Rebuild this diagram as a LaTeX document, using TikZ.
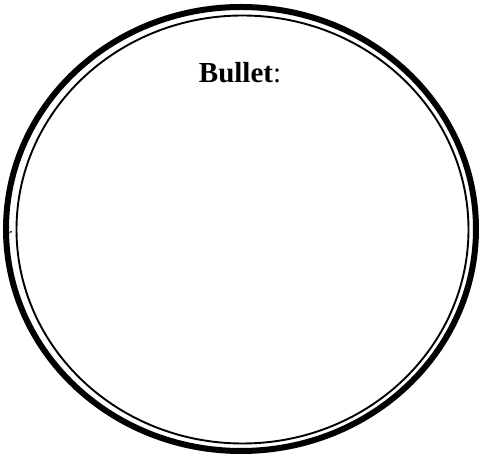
\documentclass[tikz,border=0pt]{standalone}
\usepackage{fontspec}
\setmainfont{Liberation Serif}
\usetikzlibrary{arrows.meta}
\begin{document}
\begin{tikzpicture}[x=1pt,y=1pt]
                \useasboundingbox (0,0) rectangle (480,455);
                % Borde doble
                \draw[line width=6pt] (241,226) ellipse (235 and 222);
                \draw[line width=1.9pt] (242.5,225.5) ellipse (226 and 214);

                % Titulo
                \node[anchor=base, font=\fontsize{29}{34}\selectfont] (titulo) at (240,372) {\textbf{Bullet}:};

                % Marca pequena
                \coordinate (m1) at (8,221);
                \coordinate (m2) at (12,224);
                \draw[-{Stealth[length=2pt,width=2pt]}, line width=0.4pt] (m1) -- (m2);
            \end{tikzpicture}
\end{document}
